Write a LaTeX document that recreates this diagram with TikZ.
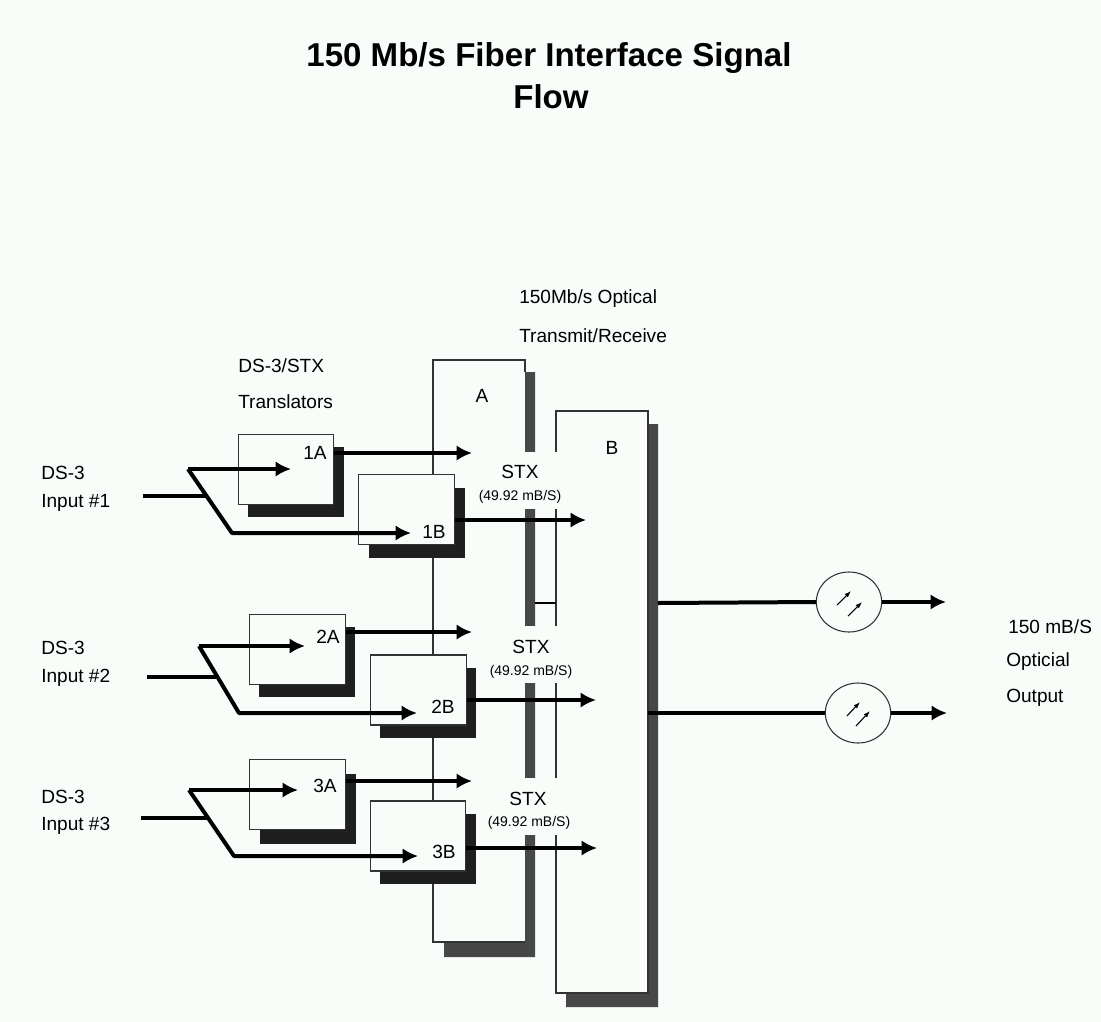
\documentclass[tikz,border=0pt]{standalone}
\usepackage{fontspec}
\setmainfont{Liberation Sans}
\usetikzlibrary{arrows.meta, shapes.geometric}
\definecolor{paper}{HTML}{F8FDFA}
\begin{document}
\begin{tikzpicture}[x=0.75pt, y=-0.75pt, >={Latex[length=11.5pt,width=11.5pt]},
  lbl/.style={font=\fontsize{14.3}{16}\selectfont, inner sep=0pt},
  sub/.style={font=\fontsize{10.5}{12}\selectfont, inner sep=0pt},
  ttl/.style={font=\fontsize{24.8}{30}\selectfont\bfseries, inner sep=0pt},
  edge/.style={draw=black!80, line width=0.8pt},
  panel/.style={edge, fill=paper},
  rim/.style={fill=black!72},
  dark/.style={fill=black!88},
  tbox/.style={edge, fill=paper, minimum width=71.5pt, minimum height=52.5pt, inner sep=0pt},
  tdrop/.style={dark, minimum width=71.5pt, minimum height=52.5pt, inner sep=0pt},
  gap/.style={fill=paper, minimum width=45pt, minimum height=42.5pt, inner sep=0pt},
  sig/.style={line width=3pt, line join=round},
  sigin/.style={sig, ->},
  opt/.style={edge, fill=paper, ellipse, minimum width=49pt, minimum height=45pt, inner sep=0pt},
  ray/.style={line width=0.8pt, ->, >={Latex[length=5pt,width=3.5pt]}}]
\fill[paper] (0,0) rectangle (1101,1022);
\useasboundingbox (0,0) rectangle (1101,1022);
% --- heading ---
\node[ttl] (title1) at (549,58) {150 Mb/s Fiber Interface Signal};
\node[ttl] (title2) at (551,97) {Flow};
\node[lbl, anchor=west] (optlbl1) at (519,299) {150Mb/s Optical};
\node[lbl, anchor=west] (optlbl2) at (519,336) {Transmit/Receive};
\node[lbl, anchor=west] (trlbl1) at (238,366) {DS-3/STX};
\node[lbl, anchor=west] (trlbl2) at (238,402) {Translators};
% --- optical panels A and B ---
\fill[rim] (525,372) -- (535,372) -- (535,957) -- (444,957) -- (444,942) -- (525,942) -- cycle;
\draw[edge] (525,372) -- (525,360) -- (433,360) -- (433,942) -- (444,942);
\draw[edge] (525,942) -- (444,942);
\fill[rim] (648,424) -- (658,424) -- (658,1007) -- (566,1007) -- (566,993) -- (648,993) -- cycle;
\draw[panel] (556,411) rectangle (648,993);
\draw[sig, line width=2.2pt] (535,603) -- (556,603);
\node[lbl] (pa) at (482,396) {A};
\node[lbl] (pb) at (612,448) {B};
% gaps where the STX labels interrupt the panels
\node[gap] (gap1) at (540,480.5) {};
\node[gap] (gap2) at (540,654.5) {};
\node[gap] (gap3) at (540,806.5) {};
\node[lbl] (stx1) at (520,472) {STX};
\node[sub] (rate1) at (520,497) {(49.92 mB/S)};
\node[lbl] (stx2) at (531,647) {STX};
\node[sub] (rate2) at (531,672) {(49.92 mB/S)};
\node[lbl] (stx3) at (528,799) {STX};
\node[sub] (rate3) at (529,823) {(49.92 mB/S)};
% --- translators ---
\node[tdrop] (d1a) at (296,482) {};
\node[tbox] (b1a) at (286,469.5) {};
\node[tdrop] (d1b) at (417,523) {};
\node[tbox] (b1b) at (406.5,509.5) {};
\node[tdrop] (d2a) at (307,662) {};
\node[tbox] (b2a) at (297.5,649.5) {};
\node[tdrop] (d2b) at (428,703) {};
\node[tbox] (b2b) at (418.5,690) {};
\node[tdrop] (d3a) at (308,809) {};
\node[tbox] (b3a) at (297.5,794.5) {};
\node[tdrop] (d3b) at (428,849) {};
\node[tbox] (b3b) at (418,836) {};
\node[lbl] (l1a) at (315,453) {1A};
\node[lbl] (l1b) at (434,532) {1B};
\node[lbl] (l2a) at (328,637) {2A};
\node[lbl] (l2b) at (443,707) {2B};
\node[lbl] (l3a) at (325,786) {3A};
\node[lbl] (l3b) at (444,852) {3B};
% --- outputs of translators ---
\coordinate (o1a) at (472,453);
\coordinate (o1b) at (586,520);
\coordinate (o2a) at (472,632);
\coordinate (o2b) at (596,700);
\coordinate (o3a) at (472,781);
\coordinate (o3b) at (597,848);
\draw[sigin] (b1a.east |- o1a) -- (o1a);
\draw[sigin] (b1b.east |- o1b) -- (o1b);
\draw[sigin] (b2a.east |- o2a) -- (o2a);
\draw[sigin] (b2b.east |- o2b) -- (o2b);
\draw[sigin] (b3a.east |- o3a) -- (o3a);
\draw[sigin] (b3b.east |- o3b) -- (o3b);
% --- input #1 ---
\node[lbl, anchor=west] (in1a) at (41,473) {DS-3};
\node[lbl, anchor=west] (in1b) at (41,503) {Input \#1};
\coordinate (s1) at (143,496);
\coordinate (m1) at (207,496);
\coordinate (f1) at (188,469);
\draw[sigin] (f1) -- (291,469);
\draw[sigin] (f1) -- (232,533) -- (411,533);
\draw[sig] (s1) -- (m1);
% --- input #2 ---
\node[lbl, anchor=west] (in2a) at (41,648) {DS-3};
\node[lbl, anchor=west] (in2b) at (41,678) {Input \#2};
\coordinate (s2) at (147,677);
\coordinate (m2) at (217,677);
\coordinate (f2) at (199,646);
\draw[sigin] (f2) -- (305,646);
\draw[sigin] (f2) -- (239,713) -- (417,713);
\draw[sig, line width=2.4pt] (s2) -- (m2);
% --- input #3 ---
\node[lbl, anchor=west] (in3a) at (41,797) {DS-3};
\node[lbl, anchor=west] (in3b) at (41,826) {Input \#3};
\coordinate (s3) at (141,818);
\coordinate (m3) at (207,818);
\coordinate (f3) at (189,790);
\draw[sigin] (f3) -- (298,790);
\draw[sigin] (f3) -- (234,856) -- (418,856);
\draw[sig] (s3) -- (m3);
% --- optical outputs ---
\node[opt] (tx1) at (849,602) {};
\node[opt] (tx2) at (858,713) {};
\coordinate (e1) at (946,602);
\coordinate (e2) at (947,713);
\draw[sig] (658,603) -- (tx1.west);
\draw[sig] (648,713) -- (tx2.west);
\draw[sigin] (tx1.east) -- (e1);
\draw[sigin] (tx2.east) -- (e2);
\draw[ray] (837,605) -- (851,591);
\draw[ray] (848,616) -- (862,602);
\draw[ray] (847,716) -- (860,702);
\draw[ray] (856,726) -- (870,711);
\node[lbl, anchor=west] (outl1) at (1008,627) {150 mB/S};
\node[lbl, anchor=west] (outl2) at (1006,662) {Opticial};
\node[lbl, anchor=west] (outl3) at (1006,698) {Output};
\end{tikzpicture}
\end{document}
